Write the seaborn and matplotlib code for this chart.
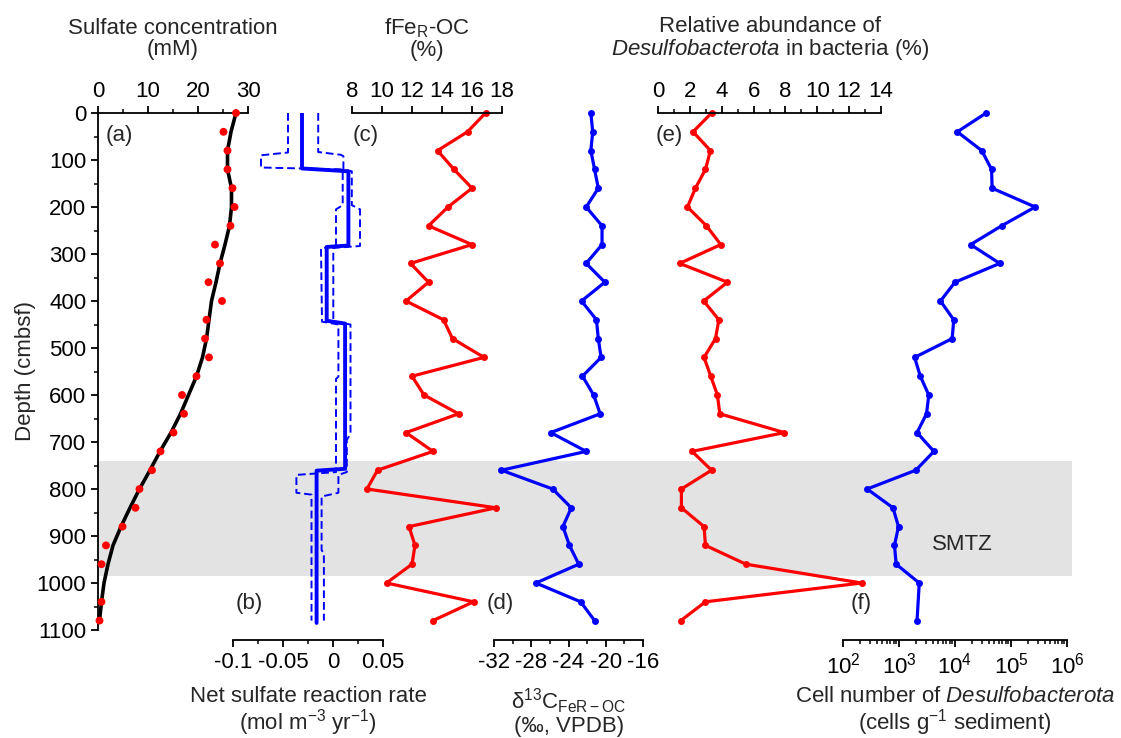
import numpy as np
import pandas as pd
import matplotlib
matplotlib.use("Agg")
import matplotlib.pyplot as plt
import seaborn as sns
from matplotlib.ticker import MultipleLocator, FixedLocator, LogLocator, NullFormatter, FuncFormatter

# ---------------- data ----------------
depth_40 = list(range(0, 1081, 40))                      # 0..1080 cm, 28 levels
depth_sulfate = list(range(0, 961, 40)) + [1040, 1080]    # 27 levels
depth_cells = list(range(0, 1001, 40)) + [1080]           # 27 levels

sulfate_obs = [27.6, 25.1, 25.9, 25.9, 26.9, 27.3, 26.5, 23.4, 24.4, 22.1, 24.8, 21.7, 21.4, 22.2,
               19.7, 16.8, 17.2, 15.1, 12.5, 10.8, 8.3, 7.5, 4.9, 1.6, 0.7, 0.7, 0.3]
sulfate_model = [27.6, 26.6, 25.9, 25.9, 26.7, 26.7, 26.3, 25.4, 24.4, 23.6, 22.7, 22.2, 21.7, 20.9,
                 19.7, 18.1, 16.5, 14.6, 12.4, 10.4, 8.3, 6.4, 4.6, 3.0, 2.0, 1.2, 0.7, 0.3]

rate_depth = [0, 118, 124, 282, 285, 442, 448, 757, 761, 1085]
rate_net = [-0.031, -0.031, 0.0154, 0.0154, -0.0063, -0.0063, 0.0121, 0.0121, -0.0164, -0.0164]
rate_low_depth = [0, 84, 90, 116, 120, 196, 205, 283, 288, 444, 450, 561, 566, 764, 770, 808, 812, 1080]
rate_low = [-0.045, -0.045, -0.072, -0.072, 0.0097, 0.0097, 0.003, 0.003, -0.012, -0.011, 0.0054,
            0.0054, 0.003, 0.003, -0.0366, -0.0366, -0.0215, -0.0215]
rate_high_depth = [0, 83, 89, 92, 121, 124, 196, 205, 283, 287, 444, 450, 682, 696, 764, 770, 808,
                   812, 816, 930, 937, 1080]
rate_high = [-0.0148, -0.0148, 0.008, 0.0104, 0.0104, 0.0188, 0.0188, 0.027, 0.027, 0.0003, 0.0003,
             0.0175, 0.0175, 0.0138, 0.0138, 0.0054, 0.0054, -0.003, -0.0114, -0.0114, -0.0091, -0.0091]

fFeR_OC = [16.9, 15.7, 13.7, 14.8, 16.0, 14.4, 13.1, 16.0, 11.9, 13.1, 11.6, 14.1, 14.7, 16.8,
           12.0, 12.8, 15.1, 11.6, 13.4, 9.7, 9.0, 17.6, 11.8, 12.2, 12.0, 10.3, 16.1, 13.4]
d13C_FeR_OC = [-21.6, -21.4, -21.6, -21.2, -20.8, -22.1, -20.4, -20.4, -22.1, -20.1, -22.6, -21.0,
               -20.8, -20.5, -22.5, -21.3, -20.6, -25.9, -22.1, -31.2, -25.7, -23.7, -24.6, -23.9,
               -22.9, -27.5, -22.7, -21.2]
desulfo_rel = [3.36, 2.2, 3.29, 2.98, 2.35, 1.85, 3.04, 3.94, 1.36, 4.36, 2.87, 3.82, 3.61, 2.89,
               3.31, 3.73, 3.88, 7.93, 2.14, 3.36, 1.47, 1.47, 2.89, 2.98, 5.52, 12.79, 2.98, 1.43]
desulfo_cells = [3.6e4, 1.1e4, 3.0e4, 4.5e4, 4.6e4, 2.7e5, 6.8e4, 1.9e4, 6.3e4, 1.0e4, 5.5e3, 9.5e3,
                 8.9e3, 1.9e3, 2.4e3, 3.4e3, 3.1e3, 2.1e3, 4.2e3, 2.0e3, 2.7e2, 7.8e2, 9.8e2, 8.3e2,
                 8.9e2, 2.3e3, 2.1e3]

smtz_top, smtz_bottom = 740, 985
depth_ticks = list(range(0, 1101, 100))

# ---------------- style ----------------
sns.set_theme(style="ticks")
FS = 16
plt.rcParams.update({
    "font.family": ["Liberation Sans", "DejaVu Sans"],
    "font.size": FS,
    "mathtext.fontset": "custom",
    "mathtext.rm": "Liberation Sans",
    "mathtext.it": "Liberation Sans:italic",
    "mathtext.bf": "Liberation Sans:bold",
    "axes.unicode_minus": False,
    "axes.linewidth": 1.3,
    "xtick.major.width": 1.3, "ytick.major.width": 1.3,
    "xtick.minor.width": 1.1, "ytick.minor.width": 1.1,
    "xtick.major.size": 5, "ytick.major.size": 5,
    "xtick.minor.size": 2.8, "ytick.minor.size": 2.8,
    "xtick.direction": "out", "ytick.direction": "out",
    "xtick.color": "black", "ytick.color": "black",
    "axes.edgecolor": "black",
    "xtick.labelsize": FS, "ytick.labelsize": FS,
})

W, H = 1121, 738
YTOP, YBOT = 113, 630
fig = plt.figure(figsize=(W / 100, H / 100), dpi=100)


def rect(x0, x1):
    return [x0 / W, 1 - YBOT / H, (x1 - x0) / W, (YBOT - YTOP) / H]


def ftxt(x, y, s, **kw):
    fig.text(x / W, 1 - y / H, s, **kw)


def panel(x0, x1, side, z):
    ax = fig.add_axes(rect(x0, x1), zorder=z)
    ax.set_facecolor("none")
    ax.set_ylim(1100, 0)
    for sp in ["left", "right", "top", "bottom"]:
        ax.spines[sp].set_visible(False)
    ax.spines[side].set_visible(True)
    if side == "top":
        ax.xaxis.tick_top()
        ax.tick_params(axis="x", which="major", pad=3)
    else:
        ax.xaxis.tick_bottom()
        ax.spines["bottom"].set_position(("outward", 7))
        ax.tick_params(axis="x", which="major", pad=4)
    ax.tick_params(axis="y", left=False, labelleft=False, which="both")
    ax.set_xlabel("")
    ax.set_ylabel("")
    return ax


# background shading (SMTZ)
ax_bg = fig.add_axes(rect(98, 1072), zorder=0)
ax_bg.set_ylim(1100, 0)
ax_bg.set_xlim(0, 1)
ax_bg.axhspan(smtz_top, smtz_bottom, color="#e3e3e3", lw=0)
ax_bg.axis("off")

line_kw = dict(sort=False, estimator=None, lw=2.3, marker="o", markersize=5,
               markeredgewidth=0, clip_on=False, legend=False)

# (a) sulfate
ax_a = panel(98, 248, "top", 2)
ax_a.spines["left"].set_visible(True)
sns.lineplot(x=sulfate_model, y=depth_40, sort=False, estimator=None, color="black", lw=2.6,
             clip_on=False, legend=False, ax=ax_a)
sns.scatterplot(x=sulfate_obs, y=depth_sulfate, color="red", s=32, edgecolor="none",
                clip_on=False, legend=False, ax=ax_a, zorder=5)
ax_a.set_xlim(0, 30)
ax_a.set_ylim(1100, 0)
ax_a.xaxis.set_major_locator(MultipleLocator(10))
ax_a.xaxis.set_minor_locator(MultipleLocator(5))
ax_a.tick_params(axis="y", left=True, labelleft=True, which="both")
ax_a.yaxis.set_major_locator(FixedLocator(depth_ticks))
ax_a.yaxis.set_minor_locator(MultipleLocator(50))
ax_a.set_xlabel("")
ax_a.set_ylabel("")

# (b) sulfate reaction rate
ax_b = panel(233, 383, "bottom", 3)
sns.lineplot(x=rate_low, y=rate_low_depth, sort=False, estimator=None, color="blue", lw=1.4,
             linestyle=(0, (4, 2)), legend=False, ax=ax_b)
sns.lineplot(x=rate_high, y=rate_high_depth, sort=False, estimator=None, color="blue", lw=1.4,
             linestyle=(0, (4, 2)), legend=False, ax=ax_b)
sns.lineplot(x=rate_net, y=rate_depth, sort=False, estimator=None, color="blue", lw=2.8,
             legend=False, ax=ax_b)
ax_b.set_xlim(-0.1, 0.05)
ax_b.set_ylim(1100, 0)
ax_b.xaxis.set_major_locator(FixedLocator([-0.1, -0.05, 0, 0.05]))
ax_b.xaxis.set_minor_locator(FixedLocator([-0.075, -0.025, 0.025]))
ax_b.xaxis.set_major_formatter(FuncFormatter(lambda v, p: f"{v:g}"))
ax_b.set_xlabel("")
ax_b.set_ylabel("")

# (c) fFeR-OC
ax_c = panel(352, 502, "top", 4)
sns.lineplot(x=fFeR_OC, y=depth_40, color="red", ax=ax_c, **line_kw)
ax_c.set_xlim(8, 18)
ax_c.set_ylim(1100, 0)
ax_c.xaxis.set_major_locator(MultipleLocator(2))
ax_c.set_xlabel("")
ax_c.set_ylabel("")

# (d) d13C
ax_d = panel(494, 643, "bottom", 5)
sns.lineplot(x=d13C_FeR_OC, y=depth_40, color="blue", ax=ax_d, **line_kw)
ax_d.set_xlim(-32, -16)
ax_d.set_ylim(1100, 0)
ax_d.xaxis.set_major_locator(MultipleLocator(4))
ax_d.xaxis.set_minor_locator(MultipleLocator(2))
ax_d.set_xlabel("")
ax_d.set_ylabel("")

# (e) relative abundance
ax_e = panel(658, 881, "top", 6)
sns.lineplot(x=desulfo_rel, y=depth_40, color="red", ax=ax_e, **line_kw)
ax_e.set_xlim(0, 14)
ax_e.set_ylim(1100, 0)
ax_e.xaxis.set_major_locator(MultipleLocator(2))
ax_e.xaxis.set_minor_locator(MultipleLocator(1))
ax_e.set_xlabel("")
ax_e.set_ylabel("")

# (f) cell numbers
ax_f = panel(843, 1067, "bottom", 7)
sns.lineplot(x=desulfo_cells, y=depth_cells, color="blue", ax=ax_f, **line_kw)
ax_f.set_xscale("log")
ax_f.set_xlim(1e2, 1e6)
ax_f.set_ylim(1100, 0)
ax_f.xaxis.set_major_locator(LogLocator(base=10, numticks=10))
ax_f.xaxis.set_minor_locator(LogLocator(base=10, subs=np.arange(2, 10), numticks=20))
ax_f.xaxis.set_minor_formatter(NullFormatter())
ax_f.set_xlabel("")
ax_f.set_ylabel("")

# ---------------- texts ----------------
ftxt(25, 371, "Depth (cmbsf)", rotation=90, ha="center", va="center", fontsize=FS)

ftxt(173, 39, "Sulfate concentration\n(mM)", ha="center", va="center", fontsize=FS,
     linespacing=1.0)
ftxt(427, 39, "fFe$_\\mathregular{R}$-OC\n(%)", ha="center", va="center", fontsize=FS,
     linespacing=1.0)
ftxt(770, 39, "Relative abundance of\n$\\mathit{Desulfobacterota}$ in bacteria (%)",
     ha="center", va="center", fontsize=FS, linespacing=1.05)

ftxt(308, 712, "Net sulfate reaction rate\n(mol m$^{-3}$ yr$^{-1}$)", ha="center", va="center",
     fontsize=FS, linespacing=1.0)
ftxt(569, 712, "δ$^{13}$C$_\\mathregular{FeR-OC}$\n(‰, VPDB)", ha="center", va="center",
     fontsize=FS, linespacing=1.0)
ftxt(955, 712, "Cell number of $\\mathit{Desulfobacterota}$\n(cells g$^{-1}$ sediment)",
     ha="center", va="center", fontsize=FS, linespacing=1.0)

for lab, x, y in [("(a)", 106, 136), ("(c)", 353, 136), ("(e)", 656, 136),
                  ("(b)", 236, 604), ("(d)", 487, 604), ("(f)", 851, 604)]:
    ftxt(x, y, lab, ha="left", va="center", fontsize=FS)

ftxt(962, 545, "SMTZ", ha="center", va="center", fontsize=FS)

fig.savefig("out.png", dpi=100)
